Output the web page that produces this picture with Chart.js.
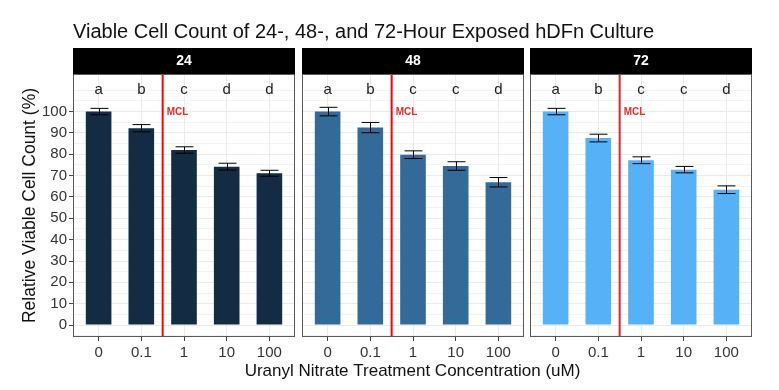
<!DOCTYPE html>
<html><head><meta charset="utf-8">
<script src="https://cdn.jsdelivr.net/npm/chart.js@4.4.1/dist/chart.umd.min.js"></script>
<style>
html,body{margin:0;padding:0;background:#fff;}
#wrap{position:relative;width:779px;height:390px;background:#fff;}
canvas{position:absolute;left:0;top:0;}
</style></head><body>
<div id="wrap">
<canvas id="c0" width="779" height="390"></canvas>
<canvas id="c1" width="779" height="390"></canvas>
<canvas id="c2" width="779" height="390"></canvas>
</div>
<script>
// ---- data ----
const categories = ['0', '0.1', '1', '10', '100'];
const xPositions = [1, 2, 3, 4, 5];
const panelLabels = ['24', '48', '72'];
const values24 = [100, 92.2, 82.0, 74.2, 71.1];
const errors24 = [1.5, 1.7, 1.5, 1.6, 1.4];
const letters24 = ['a', 'b', 'c', 'd', 'd'];
const values48 = [100, 92.5, 79.8, 74.5, 66.9];
const errors48 = [2.0, 2.4, 1.8, 2.0, 2.2];
const letters48 = ['a', 'b', 'c', 'c', 'd'];
const values72 = [100, 87.6, 77.2, 72.8, 63.4];
const errors72 = [1.5, 1.8, 1.6, 1.5, 1.8];
const letters72 = ['a', 'b', 'c', 'c', 'd'];
const yTickValues = [-5, 0, 5, 10, 15, 20, 25, 30, 35, 40, 45, 50, 55, 60, 65, 70, 75, 80, 85, 90, 95, 100, 105, 110];
const yLabelValues = [0, 10, 20, 30, 40, 50, 60, 70, 80, 90, 100];
const mclPosition = 2.5;
const mclLabelY = 99.5;
const letterY = 110.2;
const yMin = -5.6, yMax = 117.6;
const xMin = 0.4, xMax = 5.6;

const titleText = 'Viable Cell Count of 24-, 48-, and 72-Hour Exposed hDFn Culture';
const xTitleText = 'Uranyl Nitrate Treatment Concentration (uM)';
const yTitleText = 'Relative Viable Cell Count (%)';

// ---- layout / style ----
const FONT = "'Liberation Sans', Arial, Helvetica, sans-serif";
const W = 779;
const panelBounds = [[73, 295], [302, 524], [530, 752]];
const barColors = ['#132B43', '#336A98', '#56B1F7'];
const mclColors = ['#FF0000', '#FF0000', '#D42A2A'];
const panelValues = [values24, values48, values72];
const panelErrors = [errors24, errors48, errors72];
const panelLetters = [letters24, letters48, letters72];

Chart.defaults.font.family = FONT;

const facetPlugin = {
  id: 'facet',
  afterDatasetsDraw(chart, args, o) {
    const {ctx, chartArea: a, scales: {x, y}} = chart;
    ctx.save();
    // error bars
    ctx.strokeStyle = '#000';
    ctx.lineWidth = 1;
    const half = x.getPixelForValue(1 + 0.21) - x.getPixelForValue(1);
    o.values.forEach((v, i) => {
      const px = Math.round(x.getPixelForValue(xPositions[i])) + 0.5;
      const t = y.getPixelForValue(v + o.errors[i]);
      const b = y.getPixelForValue(v - o.errors[i]);
      ctx.beginPath();
      ctx.moveTo(px - half, t); ctx.lineTo(px + half, t);
      ctx.moveTo(px, t); ctx.lineTo(px, b);
      ctx.moveTo(px - half, b); ctx.lineTo(px + half, b);
      ctx.stroke();
    });
    // MCL line
    const mx = x.getPixelForValue(mclPosition);
    ctx.strokeStyle = o.mclColor;
    ctx.lineWidth = 2;
    ctx.beginPath();
    ctx.moveTo(mx, a.top); ctx.lineTo(mx, a.bottom);
    ctx.stroke();
    ctx.fillStyle = '#EE2A2A';
    ctx.font = 'bold 10px ' + FONT;
    ctx.textAlign = 'left';
    ctx.textBaseline = 'middle';
    ctx.fillText('MCL', mx + 4, y.getPixelForValue(mclLabelY));
    // letters
    ctx.fillStyle = '#1a1a1a';
    ctx.font = '15px ' + FONT;
    ctx.textAlign = 'center';
    o.letters.forEach((l, i) => {
      ctx.fillText(l, x.getPixelForValue(xPositions[i]), y.getPixelForValue(letterY));
    });
    // panel border
    ctx.strokeStyle = '#5a5a5a';
    ctx.lineWidth = 1;
    ctx.strokeRect(a.left + 0.5, a.top + 0.5, a.width - 1, a.height - 1);
    // strip
    ctx.fillStyle = '#000';
    ctx.fillRect(a.left, a.top - 26, a.width, 26);
    ctx.fillStyle = '#fff';
    ctx.font = 'bold 14px ' + FONT;
    ctx.textAlign = 'center';
    ctx.textBaseline = 'middle';
    ctx.fillText(o.label, a.left + a.width / 2, a.top - 13);
    if (o.first) {
      ctx.fillStyle = '#111';
      ctx.font = '20px ' + FONT;
      ctx.textAlign = 'left';
      ctx.textBaseline = 'alphabetic';
      ctx.fillText(titleText, a.left, 38);
      ctx.font = '17px ' + FONT;
      ctx.textAlign = 'center';
      ctx.fillText(xTitleText, (panelBounds[0][0] + panelBounds[2][1]) / 2, 376);
    }
    ctx.restore();
  }
};

panelLabels.forEach((label, p) => {
  const first = p === 0;
  const [L, R] = panelBounds[p];
  new Chart(document.getElementById('c' + p), {
    type: 'bar',
    data: {
      datasets: [{
        data: xPositions.map((xv, i) => ({x: xv, y: panelValues[p][i]})),
        backgroundColor: barColors[p],
        borderWidth: 0,
        barPercentage: 0.6,
        categoryPercentage: 1
      }]
    },
    plugins: [facetPlugin],
    options: {
      responsive: false,
      animation: false,
      layout: {padding: {left: first ? 0 : L, right: W - R, top: 74, bottom: 0}},
      plugins: {
        legend: {display: false},
        tooltip: {enabled: false},
        facet: {
          first, label,
          values: panelValues[p], errors: panelErrors[p], letters: panelLetters[p],
          mclColor: mclColors[p]
        }
      },
      scales: {
        x: {
          type: 'linear',
          min: xMin, max: xMax,
          offset: false,
          afterBuildTicks: s => { s.ticks = xPositions.map(v => ({value: v})); },
          afterFit: s => { s.height = 53; },
          border: {display: false},
          grid: {color: '#ebebeb', lineWidth: 1, offset: false, tickColor: '#444', tickLength: 4, tickWidth: 1},
          ticks: {
            callback: v => categories[xPositions.indexOf(v)],
            font: {size: 15}, color: '#333', padding: 3, maxRotation: 0, autoSkip: false
          }
        },
        y: {
          type: 'linear',
          min: yMin, max: yMax,
          afterBuildTicks: s => { s.ticks = yTickValues.map(v => ({value: v})); },
          afterFit: s => { s.width = first ? 73 : 0; },
          border: {display: false},
          grid: {
            color: '#ebebeb',
            lineWidth: c => (c.tick && yLabelValues.includes(c.tick.value)) ? 1 : 0.6,
            drawTicks: first,
            tickLength: 4,
            tickWidth: 1,
            tickColor: c => (c.tick && yLabelValues.includes(c.tick.value)) ? '#444' : 'rgba(0,0,0,0)'
          },
          ticks: {
            display: first,
            callback: v => yLabelValues.includes(v) ? String(v) : '',
            font: {size: 15}, color: '#333', padding: 2, autoSkip: false
          },
          title: {
            display: first,
            text: yTitleText,
            font: {size: 17.5}, color: '#111',
            padding: {top: 19.5, bottom: 0}
          }
        }
      }
    }
  });
});
</script>
</body></html>
